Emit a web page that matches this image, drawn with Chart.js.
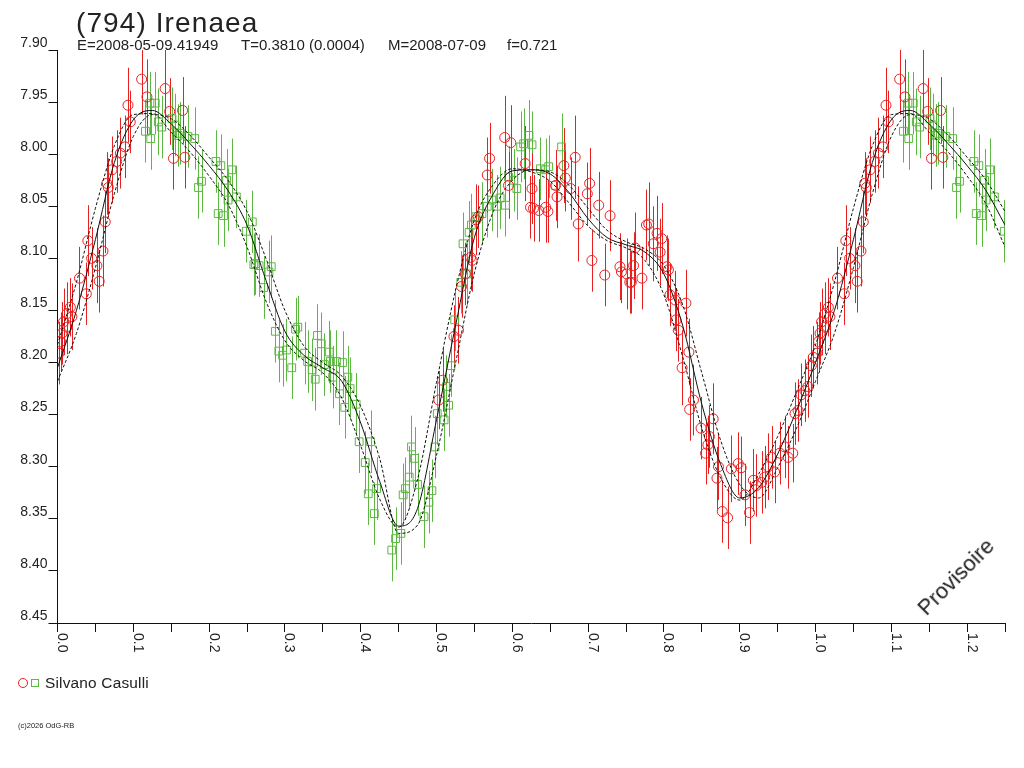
<!DOCTYPE html>
<html>
<head>
<meta charset="utf-8">
<script src="https://cdn.jsdelivr.net/npm/chart.js@4.4.0/dist/chart.umd.min.js"></script>
<style>
  html, body { margin: 0; padding: 0; background: #fff; }
  body { width: 1024px; height: 768px; position: relative; overflow: hidden; font-family: "Liberation Sans", Arial, sans-serif; color: #222; }
  #c { position: absolute; left: 0; top: 0; }
  .t { position: absolute; white-space: pre; line-height: 1; }
</style>
</head>
<body>
<canvas id="c" width="1024" height="768"></canvas>
<div class="t" style="left:76px; top:9px; font-size:28px; letter-spacing:1.1px;">(794) Irenaea</div>
<div class="t" style="left:77px; top:37px; font-size:15px;">E=2008-05-09.41949</div>
<div class="t" style="left:241px; top:37px; font-size:15px;">T=0.3810 (0.0004)</div>
<div class="t" style="left:388px; top:37px; font-size:15px;">M=2008-07-09</div>
<div class="t" style="left:507px; top:37px; font-size:15px;">f=0.721</div>
<div style="position:absolute; left:18px; top:678px; width:8px; height:8px; border:1px solid #e82020; border-radius:50%;"></div>
<div style="position:absolute; left:31px; top:679px; width:6px; height:6px; border:1px solid #5cb840;"></div>
<div class="t" style="left:45px; top:675px; font-size:15.4px; letter-spacing:0.2px;">Silvano Casulli</div>
<div class="t" style="left:18px; top:722px; font-size:7.5px;">(c)2026 OdG-RB</div>
<div class="t" style="left:956px; top:577px; font-size:22px; transform: translate(-50%,-50%) rotate(-45deg);">Provisoire</div>
<script>
// ---- Data (phase, magnitude, error) ----
const redObs = [
  [0.002,8.191,0.030],[0.004,8.180,0.028],[0.006,8.172,0.030],[0.008,8.161,0.032],[0.0125,8.153,0.030],
  [0.0125,8.166,0.026],[0.017,8.147,0.028],[0.019,8.156,0.032],[0.029,8.119,0.030],[0.038,8.134,0.030],
  [0.040,8.083,0.034],[0.045,8.100,0.030],[0.052,8.107,0.036],[0.055,8.122,0.030],[0.060,8.093,0.034],
  [0.063,8.065,0.030],[0.065,8.028,0.030],[0.067,8.032,0.028],[0.072,8.015,0.032],[0.078,8.007,0.030],
  [0.083,7.999,0.034],[0.089,7.993,0.030],[0.093,7.953,0.036],[0.096,7.969,0.030],[0.111,7.928,0.034],
  [0.118,7.945,0.036],[0.142,7.937,0.040],[0.148,7.959,0.032],[0.153,8.004,0.030],[0.165,7.958,0.032],
  [0.168,8.003,0.030],
  [0.503,8.236,0.028],[0.508,8.217,0.030],[0.523,8.175,0.030],[0.529,8.169,0.032],[0.533,8.127,0.030],
  [0.538,8.115,0.030],[0.545,8.099,0.032],[0.547,8.102,0.030],[0.552,8.063,0.034],[0.555,8.060,0.030],
  [0.567,8.020,0.036],[0.570,8.004,0.034],[0.590,7.984,0.040],[0.595,8.030,0.032],[0.598,7.989,0.036],
  [0.617,8.009,0.036],[0.624,8.051,0.030],[0.626,8.033,0.034],[0.628,8.052,0.032],[0.635,8.054,0.030],
  [0.644,8.051,0.034],[0.647,8.055,0.030],[0.657,8.030,0.034],[0.659,8.041,0.030],[0.668,8.011,0.036],
  [0.670,8.023,0.032],[0.677,8.033,0.030],[0.683,8.003,0.040],[0.687,8.067,0.036],[0.699,8.038,0.030],
  [0.702,8.028,0.034],[0.705,8.102,0.030],[0.714,8.049,0.032],[0.722,8.116,0.030],[0.729,8.059,0.034],
  [0.742,8.108,0.032],[0.744,8.113,0.030],[0.751,8.115,0.034],[0.755,8.123,0.030],[0.757,8.123,0.030],
  [0.760,8.107,0.032],[0.762,8.090,0.034],[0.771,8.119,0.030],[0.777,8.068,0.034],[0.780,8.067,0.040],
  [0.786,8.086,0.036],[0.791,8.076,0.036],[0.795,8.094,0.032],[0.797,8.081,0.034],[0.804,8.108,0.030],
  [0.806,8.111,0.030],[0.808,8.135,0.030],[0.815,8.140,0.028],[0.816,8.159,0.030],[0.819,8.169,0.030],
  [0.824,8.205,0.036],[0.829,8.143,0.032],[0.833,8.190,0.032],[0.834,8.245,0.030],[0.839,8.236,0.034],
  [0.849,8.263,0.030],[0.855,8.287,0.030],[0.858,8.279,0.028],[0.860,8.271,0.030],[0.865,8.254,0.034],
  [0.870,8.311,0.030],[0.872,8.300,0.032],[0.877,8.343,0.030],[0.884,8.349,0.030],[0.889,8.302,0.032],
  [0.898,8.297,0.030],[0.902,8.301,0.030],[0.907,8.327,0.030],[0.913,8.344,0.030],[0.918,8.313,0.030],
  [0.922,8.318,0.030],[0.929,8.315,0.030],[0.933,8.310,0.030],[0.9375,8.300,0.032],[0.942,8.291,0.030],
  [0.946,8.305,0.030],[0.953,8.287,0.030],[0.9595,8.281,0.030],[0.964,8.291,0.030],[0.970,8.287,0.028],
  [0.973,8.249,0.030],[0.977,8.246,0.030],[0.981,8.231,0.030],[0.986,8.227,0.030],[0.990,8.223,0.030],
  [0.9945,8.203,0.030],[0.997,8.195,0.030]
];
const greenObs = [
  [0.116,7.978,0.030],[0.122,7.951,0.030],[0.123,7.985,0.030],[0.129,7.951,0.030],[0.133,7.969,0.032],
  [0.1375,7.974,0.030],[0.151,7.966,0.030],[0.155,7.972,0.030],[0.159,7.982,0.030],[0.162,7.980,0.030],
  [0.172,7.983,0.030],[0.181,7.985,0.030],[0.186,8.032,0.030],[0.190,8.026,0.030],[0.209,8.007,0.030],
  [0.212,8.057,0.030],[0.2155,8.011,0.030],[0.219,8.059,0.030],[0.223,8.025,0.030],[0.225,8.044,0.030],
  [0.230,8.015,0.030],[0.236,8.041,0.030],[0.249,8.074,0.030],[0.257,8.065,0.030],[0.259,8.106,0.030],
  [0.261,8.105,0.030],[0.266,8.107,0.030],[0.272,8.128,0.030],[0.279,8.113,0.030],[0.282,8.108,0.030],
  [0.2875,8.170,0.030],[0.292,8.189,0.030],[0.297,8.193,0.030],[0.302,8.188,0.030],[0.309,8.205,0.030],
  [0.314,8.168,0.030],[0.317,8.166,0.030],[0.326,8.191,0.030],[0.330,8.199,0.030],[0.336,8.207,0.030],
  [0.340,8.216,0.030],[0.343,8.174,0.030],[0.348,8.182,0.030],[0.352,8.202,0.030],[0.3585,8.190,0.030],
  [0.360,8.199,0.030],[0.363,8.214,0.030],[0.368,8.199,0.030],[0.372,8.230,0.030],[0.376,8.200,0.030],
  [0.379,8.243,0.030],[0.383,8.214,0.030],[0.386,8.225,0.030],[0.394,8.240,0.030],[0.398,8.276,0.030],
  [0.406,8.296,0.030],[0.410,8.326,0.030],[0.413,8.276,0.030],[0.418,8.345,0.030],[0.421,8.321,0.030],
  [0.441,8.380,0.030],[0.446,8.369,0.030],[0.453,8.364,0.030],[0.456,8.327,0.030],[0.459,8.321,0.030],
  [0.464,8.310,0.030],[0.467,8.281,0.030],[0.471,8.292,0.030],[0.475,8.317,0.030],[0.4835,8.348,0.030],
  [0.490,8.334,0.030],[0.494,8.323,0.030],[0.498,8.281,0.030],[0.501,8.249,0.030],[0.510,8.255,0.030],
  [0.513,8.223,0.030],[0.516,8.241,0.030],[0.519,8.203,0.030],[0.524,8.159,0.030],[0.532,8.123,0.030],
  [0.535,8.086,0.030],[0.540,8.115,0.030],[0.543,8.075,0.030],[0.546,8.068,0.030],[0.552,8.060,0.030],
  [0.560,8.057,0.030],[0.567,8.050,0.030],[0.573,8.044,0.030],[0.580,8.050,0.030],[0.584,8.042,0.030],
  [0.591,8.049,0.030],[0.595,8.022,0.030],[0.602,8.025,0.030],[0.606,8.033,0.030],[0.611,7.993,0.034],
  [0.615,7.990,0.034],[0.622,7.982,0.034],[0.626,7.991,0.032],[0.637,8.014,0.030],[0.644,8.015,0.030],
  [0.648,8.012,0.030],[0.657,8.030,0.030],[0.665,7.993,0.032]
];
const fitPhase = [0.000,0.025,0.050,0.075,0.100,0.125,0.150,0.175,0.200,0.225,0.250,0.275,0.300,0.325,0.350,
  0.375,0.400,0.425,0.450,0.475,0.500,0.525,0.550,0.575,0.600,0.625,0.650,0.675,0.700,0.725,0.750,0.775,
  0.800,0.825,0.850,0.875,0.900,0.925,0.950,0.975,1.000];
const fitMag = [8.205,8.150,8.082,8.008,7.967,7.958,7.971,7.990,8.011,8.035,8.068,8.121,8.170,8.193,8.205,
  8.218,8.258,8.314,8.357,8.340,8.255,8.165,8.080,8.038,8.016,8.015,8.019,8.037,8.062,8.080,8.087,8.094,
  8.115,8.165,8.240,8.298,8.330,8.320,8.288,8.246,8.200];
const fitUpper = [8.183,8.123,8.052,7.992,7.962,7.961,7.979,7.998,8.021,8.048,8.089,8.141,8.179,8.198,8.210,
  8.234,8.280,8.331,8.358,8.312,8.219,8.131,8.063,8.029,8.014,8.017,8.026,8.047,8.069,8.083,8.090,8.102,
  8.135,8.195,8.263,8.311,8.332,8.307,8.271,8.228,8.183];
const fitLower = [8.218,8.172,8.109,8.038,7.983,7.962,7.966,7.982,8.003,8.025,8.055,8.100,8.150,8.184,8.200,
  8.213,8.242,8.292,8.364,8.356,8.289,8.201,8.114,8.055,8.025,8.015,8.017,8.030,8.052,8.073,8.084,8.091,
  8.107,8.145,8.210,8.275,8.317,8.330,8.301,8.263,8.218];
const xTickLabels = ['0.0','0.1','0.2','0.3','0.4','0.5','0.6','0.7','0.8','0.9','1.0','1.1','1.2'];
const observer = 'Silvano Casulli';

// phase plot shows phases 1.0-1.25 again (same observations)
const wrap = 0.25;
function obsPoints(obs) {
  const pts = obs.map(o => ({x: o[0], y: o[1], e: o[2]}));
  obs.filter(o => o[0] <= wrap).forEach(o => pts.push({x: o[0] + 1, y: o[1], e: o[2]}));
  return pts;
}
function curvePoints(mags) {
  const pts = fitPhase.map((p, i) => ({x: p, y: mags[i]}));
  fitPhase.forEach((p, i) => { if (p > 0 && p <= wrap) pts.push({x: p + 1, y: mags[i]}); });
  return pts;
}

const RED = '#e82020', GREEN = '#5cb840';
const FONT = '"Liberation Sans", Arial, sans-serif';

const errorBars = {
  id: 'errorBars',
  beforeDatasetsDraw(chart) {
    const {ctx, chartArea: a, scales: {x, y}} = chart;
    ctx.save();
    ctx.beginPath(); ctx.rect(a.left, a.top, a.right - a.left, a.bottom - a.top); ctx.clip();
    ctx.lineWidth = 1;
    chart.data.datasets.forEach(ds => {
      if (!ds.errorBars) return;
      ctx.strokeStyle = ds.borderColor;
      ds.data.forEach(p => {
        const px = Math.round(x.getPixelForValue(p.x)) + 0.5;
        ctx.beginPath();
        ctx.moveTo(px, y.getPixelForValue(p.y - p.e));
        ctx.lineTo(px, y.getPixelForValue(p.y + p.e));
        ctx.stroke();
      });
    });
    ctx.restore();
  }
};

const xLabels = {
  id: 'xLabels',
  afterDraw(chart) {
    const {ctx, chartArea: a, scales: {x}} = chart;
    ctx.save();
    ctx.fillStyle = '#222';
    ctx.font = '14px ' + FONT;
    ctx.textAlign = 'left';
    ctx.textBaseline = 'alphabetic';
    xTickLabels.forEach(l => {
      const px = x.getPixelForValue(parseFloat(l));
      ctx.save();
      ctx.translate(px + 0.5, a.bottom + 10);
      ctx.rotate(Math.PI / 2);
      ctx.fillText(l, 0, 0);
      ctx.restore();
    });
    ctx.restore();
  }
};

new Chart(document.getElementById('c'), {
  type: 'scatter',
  data: {
    datasets: [
      {label: 'fit', type: 'line', data: curvePoints(fitMag), borderColor: '#111', borderWidth: 1,
       pointRadius: 0, fill: false, cubicInterpolationMode: 'monotone', order: 0},
      {label: 'fit+', type: 'line', data: curvePoints(fitUpper), borderColor: '#111', borderWidth: 1,
       borderDash: [3, 2], pointRadius: 0, fill: false, cubicInterpolationMode: 'monotone', order: 0},
      {label: 'fit-', type: 'line', data: curvePoints(fitLower), borderColor: '#111', borderWidth: 1,
       borderDash: [3, 2], pointRadius: 0, fill: false, cubicInterpolationMode: 'monotone', order: 0},
      {label: observer, data: obsPoints(greenObs), errorBars: true, pointStyle: 'rect', pointRadius: 5.5,
       borderColor: GREEN, backgroundColor: 'rgba(0,0,0,0)', borderWidth: 1, order: 2},
      {label: observer, data: obsPoints(redObs), errorBars: true, pointStyle: 'circle', pointRadius: 5,
       borderColor: RED, backgroundColor: 'rgba(0,0,0,0)', borderWidth: 1, order: 1}
    ]
  },
  options: {
    responsive: false,
    animation: false,
    devicePixelRatio: 1,
    layout: {padding: {left: 0, top: 50, right: 19, bottom: 100}},
    plugins: {legend: {display: false}, title: {display: false}, tooltip: {enabled: false}},
    scales: {
      x: {
        type: 'linear', min: 0, max: 1.25,
        border: {display: true, color: '#111', width: 1},
        grid: {drawOnChartArea: false, drawTicks: true, tickLength: 9, color: '#111'},
        ticks: {stepSize: 0.05, display: false},
        afterFit: s => { s.height = 45; }
      },
      y: {
        type: 'linear', min: 7.90, max: 8.45, reverse: true,
        border: {display: true, color: '#111', width: 1},
        grid: {drawOnChartArea: false, drawTicks: true, tickLength: 9, color: '#111'},
        ticks: {stepSize: 0.05, padding: 1, labelOffset: -7, color: '#222',
                font: {family: FONT, size: 14}, callback: v => v.toFixed(2)},
        afterFit: s => { s.width = 57.5; }
      }
    }
  },
  plugins: [errorBars, xLabels]
});
</script>
</body>
</html>
